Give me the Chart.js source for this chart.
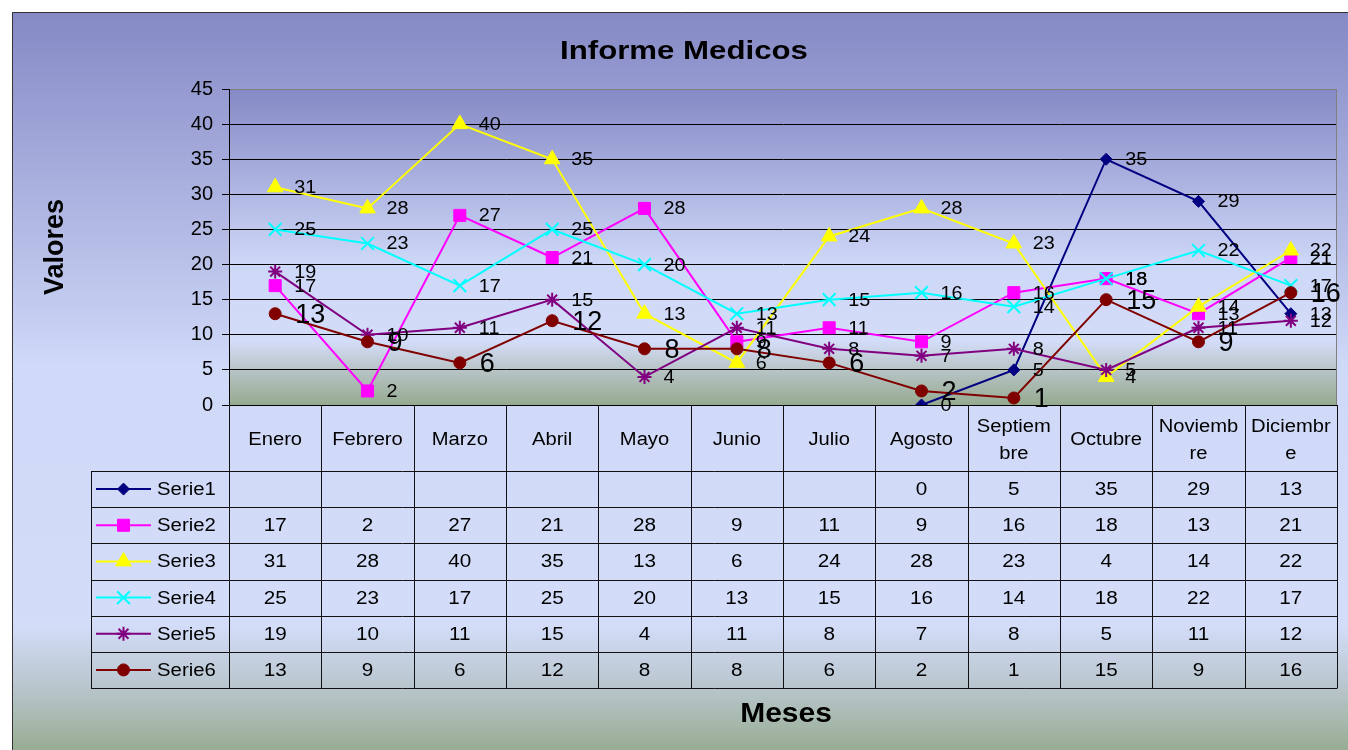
<!DOCTYPE html>
<html><head><meta charset="utf-8">
<script src="https://cdn.jsdelivr.net/npm/chart.js@4/dist/chart.umd.min.js"></script>
<style>html,body{margin:0;padding:0;background:#fff;}canvas{display:block;}</style>
</head><body>
<canvas id="c" width="1348" height="750"></canvas>
<script>
// ---- DATA ----
const categories = ['Enero','Febrero','Marzo','Abril','Mayo','Junio','Julio','Agosto','Septiembre','Octubre','Noviembre','Diciembre'];
const categoryTickLabels = [['Enero'],['Febrero'],['Marzo'],['Abril'],['Mayo'],['Junio'],['Julio'],['Agosto'],['Septiem','bre'],['Octubre'],['Noviemb','re'],['Diciembr','e']];
const seriesNames = ['Serie1','Serie2','Serie3','Serie4','Serie5','Serie6'];
const serie1 = [null,null,null,null,null,null,null,0,5,35,29,13];
const serie2 = [17,2,27,21,28,9,11,9,16,18,13,21];
const serie3 = [31,28,40,35,13,6,24,28,23,4,14,22];
const serie4 = [25,23,17,25,20,13,15,16,14,18,22,17];
const serie5 = [19,10,11,15,4,11,8,7,8,5,11,12];
const serie6 = [13,9,6,12,8,8,6,2,1,15,9,16];
const yTicks = [0,5,10,15,20,25,30,35,40,45];
const chartTitle = 'Informe Medicos';
const xTitle = 'Meses';
const yTitle = 'Valores';

// ---- STYLES ----
const FONT = '"Liberation Sans", Arial, sans-serif';
const seriesValues = [serie1, serie2, serie3, serie4, serie5, serie6];
const seriesStyle = [
  {color:'#000080', pointStyle:'rectRot', radius:6, pbw:1},
  {color:'#FF00FF', pointStyle:'rect', radius:8.5, pbw:1},
  {color:'#FFFF00', pointStyle:'triangle', radius:9, pbw:1},
  {color:'#00FFFF', pointStyle:'crossRot', radius:9, pbw:2},
  {color:'#800080', pointStyle:'star', radius:7, pbw:2},
  {color:'#800000', pointStyle:'circle', radius:6, pbw:1}
];

Chart.defaults.font.family = FONT;

function txt(ctx, s, x, y, size, bold, align, sx) {
  ctx.save();
  ctx.translate(x, y);
  ctx.scale(sx || 1, 1);
  ctx.font = (bold ? 'bold ' : '') + size + 'px ' + FONT;
  ctx.textAlign = align || 'center';
  ctx.textBaseline = 'middle';
  ctx.fillStyle = '#000';
  ctx.fillText(s, 0, 0);
  ctx.restore();
}

function marker(ctx, st, x, y) {
  ctx.save();
  ctx.fillStyle = st.color;
  ctx.strokeStyle = st.color;
  ctx.lineWidth = st.pbw;
  if (Chart.helpers && Chart.helpers.drawPoint) {
    Chart.helpers.drawPoint(ctx, {pointStyle: st.pointStyle, radius: st.radius, rotation: 0, borderWidth: st.pbw}, x, y);
  } else {
    ctx.beginPath(); ctx.arc(x, y, st.radius, 0, Math.PI*2); ctx.fill();
  }
  ctx.restore();
}

const bgPlugin = {
  id: 'bg',
  beforeDraw(chart) {
    const ctx = chart.ctx, a = chart.chartArea;
    ctx.save();
    ctx.fillStyle = '#fff';
    ctx.fillRect(0, 0, chart.width, chart.height);
    const g = ctx.createLinearGradient(0, 12, 0, 750);
    g.addColorStop(0, '#8589C5');
    g.addColorStop(0.48, '#CFD9F8');
    g.addColorStop(0.83, '#D3DDF9');
    g.addColorStop(0.91, '#BAC7D0');
    g.addColorStop(1, '#98AD92');
    ctx.fillStyle = g;
    ctx.fillRect(12, 12, chart.width - 12, chart.height - 12);
    ctx.strokeStyle = '#333';
    ctx.lineWidth = 1;
    ctx.beginPath();
    ctx.moveTo(12.5, chart.height); ctx.lineTo(12.5, 12.5); ctx.lineTo(chart.width, 12.5);
    ctx.stroke();
    const pg = ctx.createLinearGradient(0, a.top, 0, a.bottom);
    pg.addColorStop(0, '#8589C5');
    pg.addColorStop(0.55, '#CDD7F7');
    pg.addColorStop(0.80, '#D3DCF8');
    pg.addColorStop(0.885, '#B9C5C8');
    pg.addColorStop(1, '#95AA90');
    ctx.fillStyle = pg;
    ctx.fillRect(a.left, a.top, a.right - a.left, a.bottom - a.top);
    ctx.restore();
  },
  afterDatasetsDraw(chart) {
    const ctx = chart.ctx, a = chart.chartArea;
    ctx.save();
    ctx.strokeStyle = '#808080';
    ctx.lineWidth = 1;
    ctx.beginPath();
    ctx.moveTo(Math.round(a.right) - 0.5, a.top); ctx.lineTo(Math.round(a.right) - 0.5, a.bottom);
    ctx.stroke();
    ctx.restore();
    // data labels
    seriesValues.forEach((vals, di) => {
      const meta = chart.getDatasetMeta(di);
      vals.forEach((v, i) => {
        if (v === null) return;
        const p = meta.data[i];
        if (di === 5) txt(ctx, String(v), p.x + 20, p.y + 2, 27, false, 'left', 1.0);
        else txt(ctx, String(v), p.x + 19, p.y + 1, 18, false, 'left', 1.1);
      });
    });
  },
  afterDraw(chart) {
    const ctx = chart.ctx, a = chart.chartArea, xs = chart.scales.x;
    const n = categories.length;
    const cx = categories.map((c, i) => xs.getPixelForValue(i));
    const half = (cx[1] - cx[0]) / 2;
    const bounds = cx.map(x => x - half).concat([cx[n-1] + half]);
    const headTop = a.bottom, headBot = 471, rowH = (688 - 471) / 6, legLeft = 91;
    ctx.save();
    ctx.strokeStyle = '#111';
    ctx.lineWidth = 1;
    ctx.beginPath();
    bounds.forEach(b => {
      const x = Math.round(b) + 0.5;
      ctx.moveTo(x, headTop); ctx.lineTo(x, headBot + rowH * 6);
    });
    ctx.moveTo(legLeft + 0.5, headBot); ctx.lineTo(legLeft + 0.5, headBot + rowH * 6);
    for (let k = 0; k <= 6; k++) {
      const y = Math.round(headBot + rowH * k) + 0.5;
      ctx.moveTo(legLeft, y); ctx.lineTo(Math.round(bounds[n]) + 0.5, y);
    }
    ctx.stroke();
    ctx.restore();
    // header labels
    categoryTickLabels.forEach((lines, i) => {
      const mid = (headTop + headBot) / 2 + 2;
      if (lines.length === 1) txt(ctx, lines[0], cx[i], mid, 18, false, 'center', 1.12);
      else {
        txt(ctx, lines[0], cx[i], mid - 13, 18, false, 'center', 1.12);
        txt(ctx, lines[1], cx[i], mid + 14, 18, false, 'center', 1.12);
      }
    });
    // rows
    seriesValues.forEach((vals, di) => {
      const yc = headBot + rowH * (di + 0.5);
      const st = seriesStyle[di];
      ctx.save();
      ctx.strokeStyle = st.color; ctx.lineWidth = 2;
      ctx.beginPath(); ctx.moveTo(96, yc); ctx.lineTo(151, yc); ctx.stroke();
      ctx.restore();
      marker(ctx, st, 123.5, yc);
      txt(ctx, seriesNames[di], 157, yc + 1, 18, false, 'left', 1.13);
      vals.forEach((v, i) => {
        if (v === null) return;
        txt(ctx, String(v), cx[i], yc + 1, 18, false, 'center', 1.15);
      });
    });
    // titles
    txt(ctx, chartTitle, 684, 52, 26, true, 'center', 1.2);
    txt(ctx, xTitle, 786, 714, 28, true, 'center', 1.07);
    ctx.save();
    ctx.translate(56, 247);
    ctx.rotate(-Math.PI / 2);
    txt(ctx, yTitle, 0, 0, 27, true, 'center', 1.0);
    ctx.restore();
  }
};

const datasets = seriesValues.map((vals, i) => ({
  label: seriesNames[i],
  data: vals,
  borderColor: seriesStyle[i].color,
  backgroundColor: seriesStyle[i].color,
  pointBackgroundColor: seriesStyle[i].color,
  pointBorderColor: seriesStyle[i].color,
  pointStyle: seriesStyle[i].pointStyle,
  pointRadius: seriesStyle[i].radius,
  pointBorderWidth: seriesStyle[i].pbw,
  borderWidth: 2,
  tension: 0,
  fill: false,
  spanGaps: false,
  order: 5 - i
}));

new Chart(document.getElementById('c'), {
  type: 'line',
  data: { labels: categories, datasets },
  plugins: [bgPlugin],
  options: {
    responsive: false,
    animation: false,
    events: [],
    layout: { padding: { left: 0, top: 89, right: 5, bottom: 345 } },
    plugins: { legend: { display: false }, tooltip: { enabled: false }, title: { display: false } },
    scales: {
      x: { display: false, offset: true },
      y: {
        min: 0, max: 45,
        afterBuildTicks(scale) { scale.ticks = yTicks.map(v => ({ value: v })); },
        afterFit(scale) { scale.width = 229; },
        ticks: { color: '#000', font: { size: 20 }, padding: 9 },
        grid: {
          color: c => (c.tick && c.tick.value === 45) ? '#808080' : '#000',
          lineWidth: 1, drawTicks: true, tickLength: 7, tickColor: '#000'
        },
        border: { display: true, color: '#000', width: 1 }
      }
    }
  }
});
</script>
</body></html>
